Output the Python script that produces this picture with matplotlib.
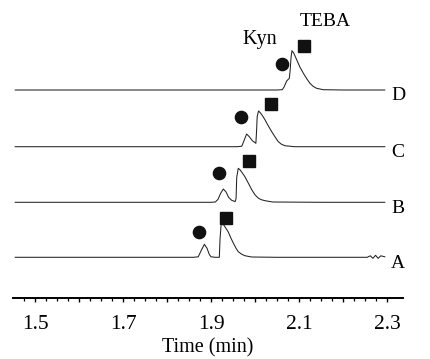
import numpy as np
import matplotlib
matplotlib.use("Agg")
import matplotlib.pyplot as plt

plt.rcParams["font.family"] = ["Liberation Serif", "DejaVu Serif"]

# time (min) / signal height for each trace
tA = [1.455, 1.60, 1.75, 1.86, 1.871, 1.878, 1.885, 1.891, 1.896, 1.900, 1.910, 1.919,
      1.9205, 1.923, 1.928, 1.934, 1.939, 1.945, 1.951, 1.957, 1.962, 1.970, 1.977, 1.992,
      2.05, 2.20, 2.255, 2.262, 2.268, 2.274, 2.28, 2.286, 2.295]
hA = [0, 0, 0, 0, 0.5, 7, 13, 9, 3, 0.5, 0, 0,
      18, 33, 33, 29, 25.6, 19.5, 14, 9, 5.6, 3, 1.6, 0.3,
      0, 0, 0, 1.5, -1, 2, -1, 1.5, 0.5]

tB = [1.455, 1.70, 1.90, 1.910, 1.916, 1.922, 1.928, 1.934, 1.940, 1.947, 1.955, 1.957,
      1.9585, 1.962, 1.966, 1.971, 1.977, 1.985, 1.993, 2.000, 2.008, 2.015, 2.023, 2.04,
      2.15, 2.295]
hB = [0, 0, 0, 0.3, 3, 9, 13.3, 10.5, 5, 2, 0.7, 4,
      25, 34, 32.5, 29.5, 25.6, 19, 12.3, 7.5, 4, 2.5, 1.6, 0.3,
      0, 0]

tC = [1.455, 1.70, 1.96, 1.970, 1.975, 1.981, 1.987, 1.994, 2.002, 2.0035, 2.005, 2.008,
      2.012, 2.017, 2.023, 2.030, 2.038, 2.046, 2.053, 2.060, 2.068, 2.09, 2.295]
hC = [0, 0, 0, 0.5, 6, 12.7, 10, 6, 3.4, 15, 30, 35.7,
      34, 31, 26.7, 21, 15, 9.5, 5, 2.5, 1, 0, 0]

tD = [1.455, 1.80, 2.05, 2.062, 2.066, 2.072, 2.078, 2.080, 2.082, 2.084, 2.088, 2.095,
      2.102, 2.110, 2.118, 2.125, 2.132, 2.140, 2.155, 2.20, 2.295]
hD = [0, 0, 0, 0.3, 3, 9, 11.7, 20, 33, 39.3, 37, 30,
      23, 16.7, 11, 6.7, 3.7, 1.7, 0.3, 0, 0]

traces = ["A", "B", "C", "D"]
# Kyn (circle) and TEBA (square) marker positions per trace
kyn_t = [1.8734, 1.9182, 1.9682, 2.0607]
kyn_h = [25, 29.6, 30, 26]
teba_t = [1.9348, 1.9857, 2.0375, 2.1125]
teba_h = [39, 41.5, 42.5, 44.2]

offsets = [41, 96, 151.6, 208.3]

fig = plt.figure(figsize=(4.31, 3.59), dpi=100)
ax = fig.add_axes([13 / 431, (359 - 298.3) / 359, 390 / 431, 298.3 / 359])

for i, (t, h) in enumerate([(tA, hA), (tB, hB), (tC, hC), (tD, hD)]):
    off = offsets[i]
    ax.plot(t, np.array(h) + off, color="#222222", lw=0.75)
    ax.plot(kyn_t[i], kyn_h[i] + off, "o", color="#111111", ms=8.8)
    ax.plot(teba_t[i], teba_h[i] + off, "s", color="#111111", ms=8.4)
    ax.text(2.325, off - 6, traces[i], ha="center", va="center", fontsize=14)

ax.text(2.0114, 259, "Kyn", ha="center", va="center", fontsize=14.5)
ax.text(2.159, 277, "TEBA", ha="center", va="center", fontsize=14)

ax.set_xlim(1.45, 2.3364)
ax.set_ylim(0, 298.3)
ax.set_xticks(np.round(np.arange(1.5, 2.31, 0.1), 2))
ax.set_xticklabels(["1.5", "", "1.7", "", "1.9", "", "2.1", "", "2.3"])
ax.set_xticks(np.arange(1.475, 2.301, 0.025), minor=True)
ax.tick_params(axis="x", which="major", direction="out", length=3.2, width=1, labelsize=15.5, pad=9)
ax.tick_params(axis="x", which="minor", direction="out", length=2.2, width=0.9)
ax.set_yticks([])
for s in ["top", "left", "right"]:
    ax.spines[s].set_visible(False)
ax.spines["bottom"].set_linewidth(1.4)
ax.set_xlabel("Time (min)", fontsize=14.5, labelpad=3)
ax.patch.set_visible(False)

fig.savefig("out.png", dpi=100)
